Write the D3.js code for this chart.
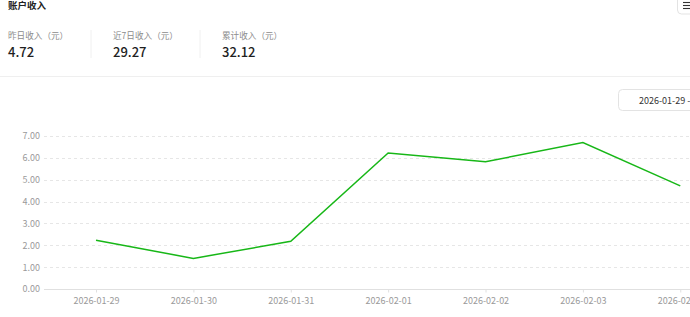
<!DOCTYPE html>
<html>
<head>
<meta charset="utf-8">
<script src="https://cdn.jsdelivr.net/npm/d3@7"></script>
<style>
  html, body { margin: 0; padding: 0; background: #fff; overflow: hidden; }
  body { width: 690px; height: 317px; font-family: "Noto Sans CJK SC", "Noto Sans", sans-serif; }
</style>
</head>
<body>
<div id="chart"></div>
<script>
// data
var dates = ["2026-01-29", "2026-01-30", "2026-01-31", "2026-02-01", "2026-02-02", "2026-02-03", "2026-02-04"];
var income = [2.23, 1.40, 2.18, 6.22, 5.82, 6.70, 4.72];
var yTicks = [0, 1, 2, 3, 4, 5, 6, 7];
var statLabels = ["昨日收入（元）", "近7日收入（元）", "累计收入（元）"];
var statValues = ["4.72", "29.27", "32.12"];

var svgWidth = 690;
var svgHeight = 317;
var fontStack = "'Noto Sans CJK SC', 'Noto Sans', sans-serif";

var svg = d3.select("#chart")
  .append("svg")
  .attr("width", svgWidth)
  .attr("height", svgHeight)
  .style("display", "block");

// header
svg.append("text")
  .attr("x", 8)
  .attr("y", 9)
  .attr("font-size", "9.5px")
  .attr("font-weight", "bold")
  .attr("fill", "#222")
  .text("账户收入");

// menu button top right
svg.append("rect")
  .attr("x", 677.5).attr("y", -6)
  .attr("width", 30).attr("height", 20)
  .attr("rx", 4)
  .attr("fill", "#fff")
  .attr("stroke", "#e3e3e3");
[2.5, 5.5, 8.5].forEach(function(yy) {
  svg.append("line")
    .attr("x1", 683).attr("x2", 692)
    .attr("y1", yy).attr("y2", yy)
    .attr("stroke", "#333").attr("stroke-width", 1.1);
});

// stats
var statX = [8, 113, 222];
statLabels.forEach(function(lbl, i) {
  svg.append("text")
    .attr("x", statX[i]).attr("y", 38.5)
    .attr("font-size", "8.6px")
    .attr("fill", "#8c8c8c")
    .text(lbl);
  svg.append("text")
    .attr("x", statX[i]).attr("y", 57)
    .attr("font-size", "13px")
    .attr("font-weight", 500)
    .attr("fill", "#1f1f1f")
    .text(statValues[i]);
});
[91, 200].forEach(function(xx) {
  svg.append("line")
    .attr("x1", xx).attr("x2", xx)
    .attr("y1", 30).attr("y2", 58)
    .attr("stroke", "#f0f0f0");
});

// separator
svg.append("line")
  .attr("x1", 0).attr("x2", svgWidth)
  .attr("y1", 76.5).attr("y2", 76.5)
  .attr("stroke", "#efefef");

// date range box
svg.append("rect")
  .attr("x", 618.5).attr("y", 89.5)
  .attr("width", 90).attr("height", 21)
  .attr("rx", 4)
  .attr("fill", "#fff")
  .attr("stroke", "#e3e3e3");
svg.append("text")
  .attr("x", 639).attr("y", 103.5)
  .attr("font-size", "9px")
  .attr("fill", "#333")
  .text("2026-01-29 - 2026-02-04");

// chart
var step = 97.38;
var x0 = 96 - step / 2;
var xScale = d3.scalePoint()
  .domain(dates)
  .range([x0, x0 + step * dates.length])
  .padding(0.5);

var yScale = d3.scaleLinear()
  .domain([0, 7])
  .range([289, 136]);

// grid
svg.append("g")
  .selectAll("line")
  .data(yTicks.filter(function(d) { return d > 0; }))
  .enter()
  .append("line")
  .attr("x1", 44)
  .attr("x2", svgWidth)
  .attr("y1", function(d) { return Math.round(yScale(d)) + 0.5; })
  .attr("y2", function(d) { return Math.round(yScale(d)) + 0.5; })
  .attr("stroke", "#e6e6e6")
  .attr("stroke-dasharray", "3,3");

// y axis labels
var leftAxis = d3.axisLeft(yScale)
  .tickValues(yTicks)
  .tickFormat(d3.format(".2f"))
  .tickSize(0)
  .tickPadding(0);
var yAxisG = svg.append("g")
  .attr("transform", "translate(40,0)")
  .call(leftAxis);
yAxisG.select(".domain").remove();
yAxisG.selectAll("text")
  .attr("font-family", fontStack)
  .attr("font-size", "9px")
  .attr("fill", "#9a9a9a");

// x axis
var bottomAxis = d3.axisBottom(xScale)
  .tickSize(3)
  .tickPadding(5);
var xAxisG = svg.append("g")
  .attr("transform", "translate(0," + (Math.round(yScale(0)) + 0.5) + ")")
  .call(bottomAxis);
xAxisG.select(".domain")
  .attr("d", "M44,0H" + svgWidth)
  .attr("stroke", "#e0e0e0");
xAxisG.selectAll(".tick line").attr("stroke", "#e0e0e0");
xAxisG.selectAll("text")
  .attr("font-family", fontStack)
  .attr("font-size", "9px")
  .attr("fill", "#9a9a9a");

// line
var line = d3.line()
  .x(function(d, i) { return xScale(dates[i]); })
  .y(function(d) { return yScale(d); });

svg.append("path")
  .datum(income)
  .attr("d", line)
  .attr("fill", "none")
  .attr("stroke", "#17b717")
  .attr("stroke-width", 1.5);
</script>
</body>
</html>
